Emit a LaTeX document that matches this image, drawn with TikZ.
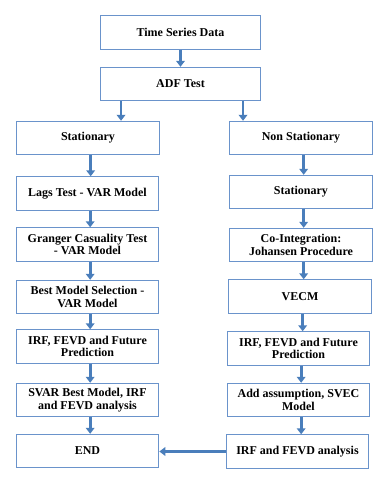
\documentclass[tikz,border=0pt]{standalone}
\usepackage{fontspec}
\setmainfont{Liberation Serif}
\usetikzlibrary{arrows.meta}
\definecolor{flowblue}{HTML}{4A7EBB}
\definecolor{boxblue}{HTML}{6A93CB}

\begin{document}
\begin{tikzpicture}[x=0.75pt,y=-0.75pt,
        box/.style={draw=boxblue, line width=0.8pt, fill=white, align=center,
            minimum width=107pt, minimum height=25pt, inner sep=1pt,
            font=\rmfamily\fontsize{9}{9.5}\selectfont\bfseries},
        topbox/.style={box, minimum width=120pt},
        arr/.style={flowblue, line width=2.2pt, -{Triangle[width=6.5pt,length=4.5pt]}}]
                \useasboundingbox (0,0) rectangle (386,480);
                % top of the flow
                \node[topbox] (tsd) at (180.5,32.5) {Time Series Data};
                \node[topbox] (adf) at (180.5,84) {ADF Test};
                % left column
                \node[box] (stat) at (88,138) {Stationary};
                \node[box] (lags) at (87.5,193.5) {Lags Test - VAR Model};
                \node[box] (granger) at (87.5,244.5) {Granger Casuality Test\\- VAR Model};
                \node[box] (best) at (87.5,297) {Best Model Selection -\\VAR Model};
                \node[box] (irfl) at (87.5,346.5) {IRF, FEVD and Future\\Prediction};
                \node[box] (svar) at (87.5,400) {SVAR Best Model, IRF\\and FEVD analysis};
                \node[box] (end) at (87.5,451) {END};
                % right column
                \node[box] (nonstat) at (301,138) {Non Stationary};
                \node[box] (stattwo) at (301,192) {Stationary};
                \node[box] (coint) at (301,245) {Co-Integration:\\Johansen Procedure};
                \node[box] (vecm) at (300,296.5) {VECM};
                \node[box] (irfr) at (298.5,348.5) {IRF, FEVD and Future\\Prediction};
                \node[box] (svec) at (298.5,400) {Add assumption, SVEC\\Model};
                \node[box] (irfa) at (297.5,451.5) {IRF and FEVD analysis};
                % arrows
                \draw[arr] (tsd) -- (adf);
                \draw[arr] ([xshift=-44.6pt]adf.south) -- ([xshift=-44.6pt]adf.south |- stat.north);
                \draw[arr] ([xshift=46.9pt]adf.south) -- ([xshift=46.9pt]adf.south |- nonstat.north);
                \foreach \a/\b in {stat/lags,lags/granger,granger/best,best/irfl,irfl/svar,svar/end,
                    nonstat/stattwo,stattwo/coint,coint/vecm,vecm/irfr,irfr/svec,svec/irfa}
                    \draw[arr] ([xshift=2pt]\a.south) -- ([xshift=2pt]\a.south |- \b.north);
                \draw[arr] (irfa.west) -- (irfa.west -| end.east);
            \end{tikzpicture}
\end{document}
